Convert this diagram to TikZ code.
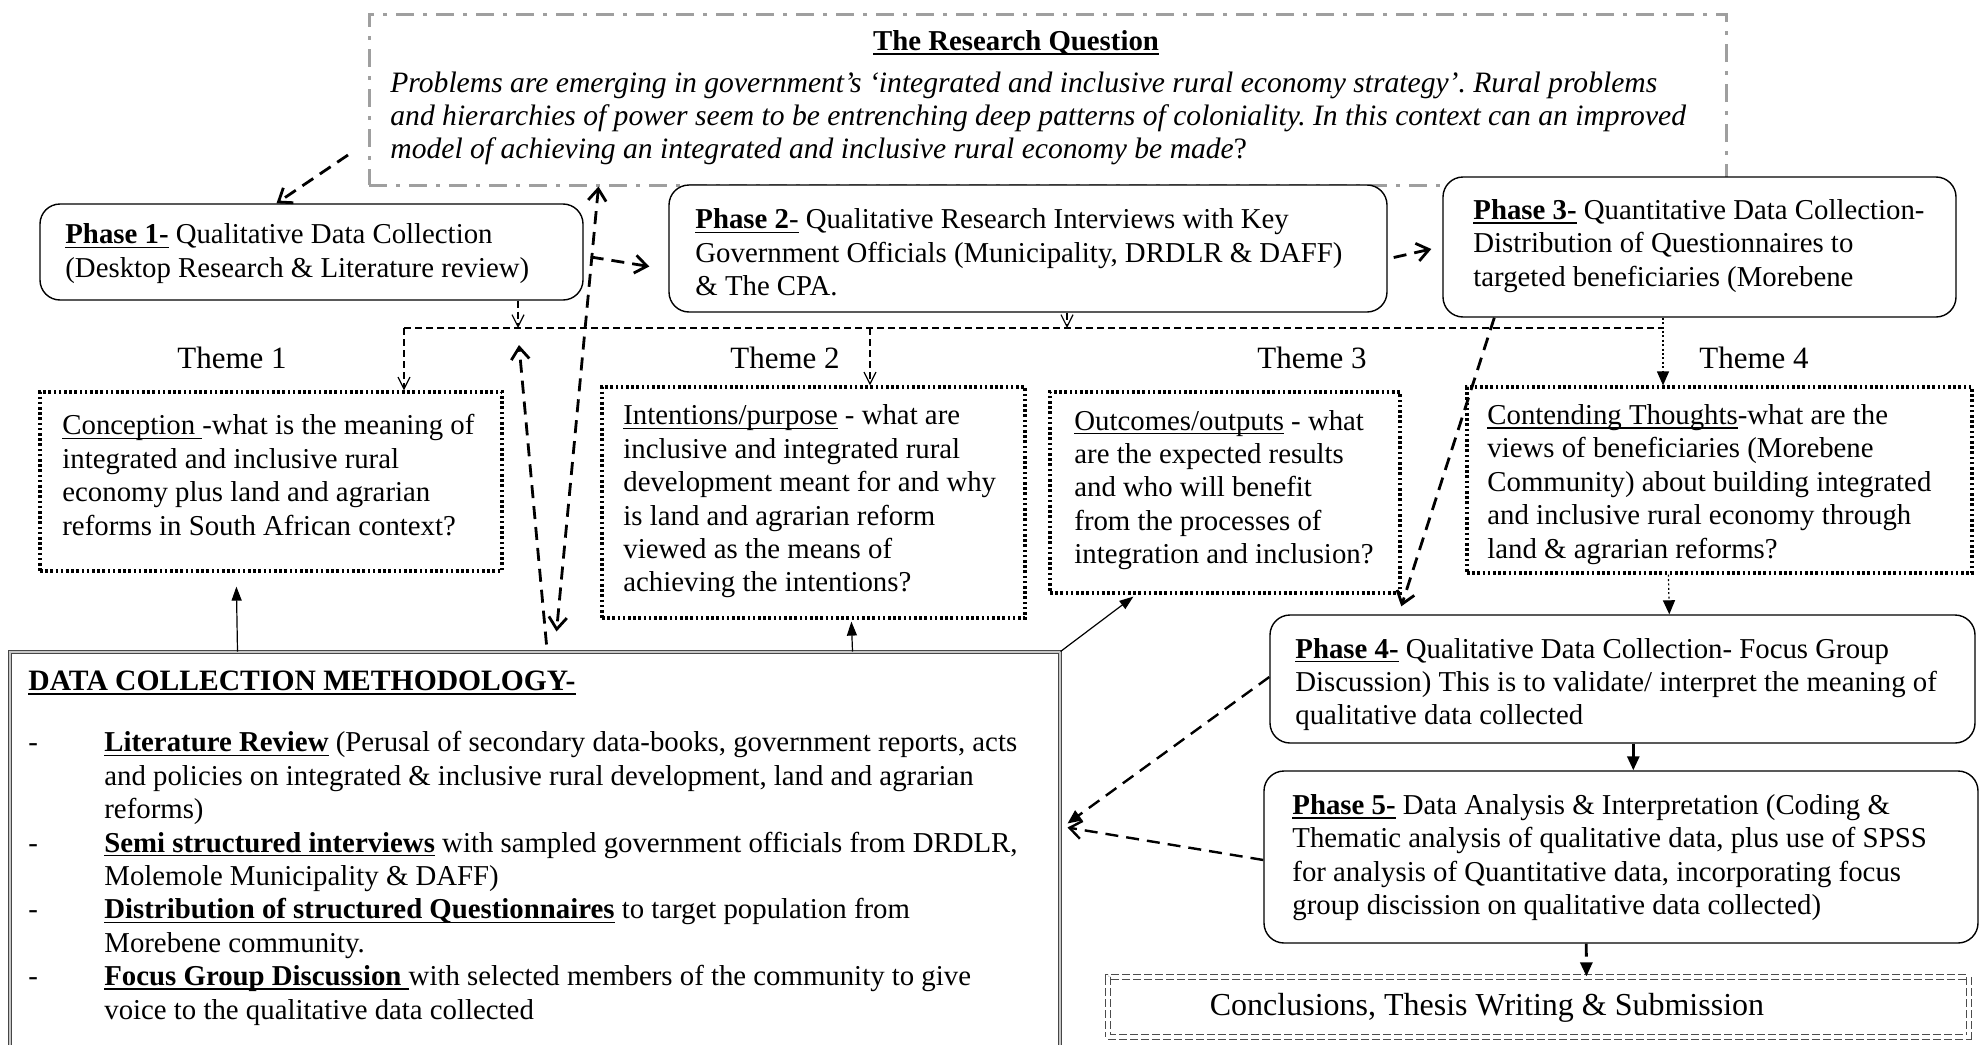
\documentclass[tikz,border=0pt]{standalone}
\usepackage{fontspec}
\setmainfont{Liberation Serif}
\usetikzlibrary{arrows.meta,calc}
\newcommand{\bodyfont}{\fontsize{14.4pt}{16.7pt}\selectfont\frenchspacing}
% underline set just below the baseline, crossing descenders
\newcommand{\undl}[1]{\setbox0=\hbox{#1}\rlap{\rule[-2.2pt]{\wd0}{0.8pt}}\box0\relax}
\begin{document}
\begin{tikzpicture}[x=0.5pt,y=-0.5pt,
  every node/.style={font=\bodyfont},
  pbox/.style={draw, rounded corners=10pt, line width=0.7pt, fill=white, inner sep=0pt},
  tbox/.style={draw, line width=1.6pt, dash pattern=on 1.3pt off 1.3pt, inner sep=0pt},
  rqbox/.style={draw=gray!75, line width=1.5pt, dash pattern=on 9pt off 4.5pt on 2pt off 4.5pt, inner sep=0pt},
  ccbox/.style={draw=gray!60!black, double=white, double distance=1.6pt, line width=0.6pt, dash pattern=on 4pt off 1.5pt, inner sep=0pt},
  dcmbox/.style={draw=gray!55!black, double=gray!45, double distance=0.8pt, line width=0.5pt, inner sep=0pt},
  txt/.style={align=left, inner sep=0pt, anchor=west},
  themelabel/.style={inner sep=0pt, font=\fontsize{15.5pt}{18pt}\selectfont},
  thickdash/.style={line width=1.4pt, dash pattern=on 6.5pt off 4pt},
  thindash/.style={line width=0.6pt, dash pattern=on 3.5pt off 2pt},
  thindot/.style={line width=0.6pt, dash pattern=on 1pt off 1.2pt},
  solidarrow/.style={line width=0.6pt, -{Triangle[length=7pt,width=5pt]}},
  headfill/.style={-{Triangle[length=7pt,width=6pt]}},
  headopen/.style={-{Straight Barb[length=6pt,width=9pt]}},
  headthin/.style={-{Straight Barb[length=6pt,width=6pt]}}]

\clip (0,0) rectangle (1986,1044);
\fill[white] (0,0) rectangle (1986,1044);

% ---------- research question ----------
\node[rqbox, minimum width=678.5pt, minimum height=85.5pt] (rq) at (1047.5,99.5) {};
\node[inner sep=0pt] (rqtitle) at (1016,43) {\undl{\bfseries The Research Question}};
\node[txt, font=\fontsize{14.8pt}{16.5pt}\selectfont\frenchspacing\itshape] (rqtext) at (390,118) {Problems are emerging in government’s ‘integrated and inclusive rural economy strategy’. Rural problems\\
and hierarchies of power seem to be entrenching deep patterns of coloniality. In this context can an improved\\
model of achieving an integrated and inclusive rural economy be made{\upshape ?}};

% ---------- phases 1-3 ----------
\node[pbox, minimum width=271.5pt, minimum height=48pt] (p1) at (311.5,252) {};
\node[txt] (p1t) at (65,253.5) {\undl{\bfseries Phase 1-} Qualitative Data Collection\\
(Desktop Research \& Literature review)};

\node[pbox, minimum width=359pt, minimum height=63.5pt] (p2) at (1028,248.5) {};
\node[txt] (p2t) at (695,252.5) {\undl{\textbf{Phase 2}-} Qualitative Research Interviews with Key\\
Government Officials (Municipality, DRDLR \& DAFF)\\
\& The CPA.};

\node[pbox, minimum width=256.5pt, minimum height=70pt] (p3) at (1699.5,247) {};
\node[txt] (p3t) at (1473,246) {\undl{\bfseries Phase 3-} Quantitative Data Collection-\\
Distribution of Questionnaires to\\
targeted beneficiaries (Morebene};

% ---------- themes ----------
\node[themelabel] (th1) at (232,358) {Theme 1};
\node[themelabel] (th2) at (785,358) {Theme 2};
\node[themelabel] (th3) at (1312,358) {Theme 3};
\node[themelabel] (th4) at (1754,358) {Theme 4};

\node[tbox, minimum width=231pt, minimum height=89.5pt] (t1) at (271,481.5) {};
\node[txt] (t1t) at (62,475) {\undl{Conception }-what is the meaning of\\
integrated and inclusive rural\\
economy plus land and agrarian\\
reforms in South African context?};

\node[tbox, minimum width=211.5pt, minimum height=115.5pt] (t2) at (813.5,502.5) {};
\node[txt] (t2t) at (623,501.5) {\undl{Intentions/purpose} - what are\\
inclusive and integrated rural\\
development meant for and why\\
is land and agrarian reform\\
viewed as the means of\\
achieving the intentions?};

\node[tbox, minimum width=175pt, minimum height=100.5pt] (t3) at (1225,492.5) {};
\node[txt] (t3t) at (1074,490) {\undl{Outcomes/outputs} - what\\
are the expected results\\
and who will benefit\\
from the processes of\\
integration and inclusion?};

\node[tbox, minimum width=252.5pt, minimum height=93pt] (t4) at (1719.5,480) {};
\node[txt] (t4t) at (1487,484.5) {\undl{Contending Thoughts}-what are the\\
views of beneficiaries (Morebene\\
Community) about building integrated\\
and inclusive rural economy through\\
land \& agrarian reforms?};

% ---------- phases 4-5 and conclusion ----------
\node[pbox, minimum width=352.5pt, minimum height=64pt] (p4) at (1622.5,679) {};
\node[txt] (p4t) at (1295,684.5) {\undl{\bfseries Phase 4-} Qualitative Data Collection- Focus Group\\
Discussion) This is to validate/ interpret the meaning of\\
qualitative data collected};

\node[pbox, minimum width=357pt, minimum height=86pt] (p5) at (1621,857) {};
\node[txt] (p5t) at (1292,857.5) {\undl{\bfseries Phase 5-} Data Analysis \& Interpretation (Coding \&\\
Thematic analysis of qualitative data, plus use of SPSS\\
for analysis of Quantitative data, incorporating focus\\
group discission on qualitative data collected)};

\node[ccbox, minimum width=430.5pt, minimum height=30pt] (cc) at (1538.5,1007) {};
\node[inner sep=0pt, font=\fontsize{16pt}{18pt}\selectfont] (cct) at (1487,1008) {Conclusions, Thesis Writing \& Submission};

% ---------- methodology ----------
\node[dcmbox, minimum width=525pt, minimum height=214pt] (dcm) at (535,866) {};
\node[txt] (dcmt) at (28,848) {\undl{\fontsize{14.8pt}{16.7pt}\selectfont\bfseries DATA COLLECTION METHODOLOGY-}\\[14pt]
\makebox[38pt][l]{-}\undl{\bfseries Literature Review} (Perusal of secondary data-books, government reports, acts\\
\hspace*{38pt}and policies on integrated \& inclusive rural development, land and agrarian\\
\hspace*{38pt}reforms)\\
\makebox[38pt][l]{-}\undl{\bfseries Semi structured interviews} with sampled government officials from DRDLR,\\
\hspace*{38pt}Molemole Municipality \& DAFF)\\
\makebox[38pt][l]{-}\undl{\bfseries Distribution of structured Questionnaires} to target population from\\
\hspace*{38pt}Morebene community.\\
\makebox[38pt][l]{-}\undl{\bfseries Focus Group Discussion }with selected members of the community to give\\
\hspace*{38pt}voice to the qualitative data collected};

% ---------- junctions on the theme bus ----------
\coordinate (bl) at (404,328);
\coordinate (j1) at (518,328);
\coordinate (j2) at (1067,328);
\coordinate (j4) at (870,328);
\coordinate (br) at (1663,328);
\coordinate (rqleft) at (348,155);

% ---------- connectors ----------
\draw[thickdash, headopen] (rqleft) -- ($(p1.north)+(-35,0)$);
\draw[thickdash, headopen] ($(p1.east)+(7,5)$) -- ($(p2.west)+(-19,18)$);
\draw[thickdash, headopen] ($(p2.east)+(6,9)$) -- ($(p3.west)+(-11,2)$);

\draw[thindash] (bl) -- (br);
\draw[thindash, headthin] (p1.south -| j1) -- (j1);
\draw[thindash, headthin] (p2.south -| j2) -- (j2);
\draw[thindash, headthin] (bl) -- (bl |- t1.north);
\draw[thindash, headthin] (j4) -- (j4 |- t2.north);
\draw[thindot, headfill] (p3.south -| br) -- (br |- t4.north);

\draw[thickdash, {Straight Barb[length=6pt,width=9pt]}-{Straight Barb[length=6pt,width=9pt]}]
  ($(rq.south west)+(231,0)$) -- ($(dcm.north west)+(547,-20)$);
\draw[thickdash, headopen] ($(dcm.north west)+(537,-7)$) -- ($(j1)+(1,17)$);

\draw[thickdash, headopen] ($(p3.south west)+(52,0)$) -- ($(p4.north west)+(132,-8)$);
\draw[thindot, headfill] ($(t4.south west)+(203,0)$) -- ($(p4.north west)+(400,0)$);
\draw[thickdash, headfill] ($(p4.south west)+(364,0)$) -- ($(p5.north west)+(370,0)$);
\draw[thickdash, headfill] ($(p5.south west)+(323,0)$) -- ($(cc.north west)+(479,0)$);
\draw[thickdash, line width=1.2pt, headfill] ($(p4.west)+(0,-2)$) -- ($(dcm.north east)+(7,172)$);
\draw[thickdash, line width=1.2pt, headopen] ($(p5.west)+(0,3)$) -- ($(dcm.north east)+(7,176)$);

\draw[solidarrow] ($(dcm.north west)+(228,0)$) -- ($(t1.south west)+(198,14)$);
\draw[solidarrow] ($(dcm.north west)+(843,0)$) -- ($(t2.south west)+(251,2)$);
\draw[solidarrow] (dcm.north east) -- ($(t3.south west)+(85,2)$);
\end{tikzpicture}
\end{document}
